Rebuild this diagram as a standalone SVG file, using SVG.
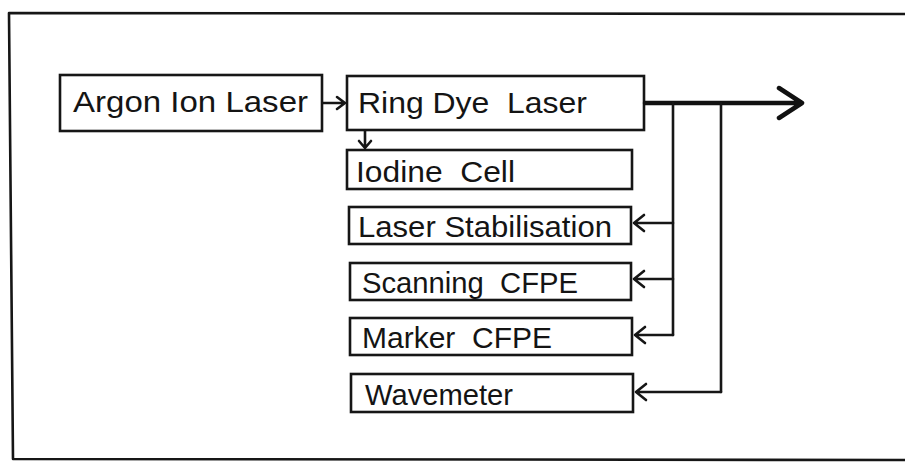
<svg xmlns="http://www.w3.org/2000/svg" width="905" height="463" viewBox="0 0 905 463">
<style>
.box{fill:none;stroke:#161616;stroke-width:2.6}
.lbl{font-family:"Liberation Sans",Arial,sans-serif;font-size:29px;fill:#141414;white-space:pre}
.ln{fill:none;stroke:#161616;stroke-width:2.6;stroke-linecap:round;stroke-linejoin:round}
.thick{fill:none;stroke:#111;stroke-width:4.5;stroke-linecap:round;stroke-linejoin:round}
</style>
<rect width="905" height="463" fill="#fff"/>
<g id="frame">
<path class="ln" d="M905,14 L9,13 L13,459 L905,460"/>
</g>
<g id="argon">
<rect class="box" x="60" y="75" width="262" height="56"/>
<text class="lbl" x="73" y="112" textLength="235" lengthAdjust="spacingAndGlyphs">Argon Ion Laser</text>
</g>
<g id="ringdye">
<rect class="box" x="347" y="76" width="297" height="54"/>
<text class="lbl" x="358" y="113" textLength="229" lengthAdjust="spacingAndGlyphs" xml:space="preserve">Ring Dye  Laser</text>
</g>
<g id="iodine">
<rect class="box" x="347" y="150" width="285" height="39"/>
<text class="lbl" x="356" y="182" textLength="159" lengthAdjust="spacingAndGlyphs" xml:space="preserve">Iodine  Cell</text>
</g>
<g id="stabilisation">
<rect class="box" x="349" y="207" width="282" height="37"/>
<text class="lbl" x="358" y="237" textLength="254" lengthAdjust="spacingAndGlyphs">Laser Stabilisation</text>
</g>
<g id="scanning">
<rect class="box" x="350" y="263" width="281" height="37"/>
<text class="lbl" x="362" y="293" textLength="216" lengthAdjust="spacingAndGlyphs" xml:space="preserve">Scanning  CFPE</text>
</g>
<g id="marker">
<rect class="box" x="350" y="318" width="282" height="37"/>
<text class="lbl" x="362" y="348" textLength="190" lengthAdjust="spacingAndGlyphs" xml:space="preserve">Marker  CFPE</text>
</g>
<g id="wavemeter">
<rect class="box" x="351" y="374" width="282" height="38"/>
<text class="lbl" x="365" y="405" textLength="148" lengthAdjust="spacingAndGlyphs">Wavemeter</text>
</g>
<g id="connectors">
<path class="ln" d="M323,103 L345,103 M337,97 L345,103 L337,109"/>
<path class="ln" d="M365,131 L365,148 M359,141 L365,148 L371,141"/>
<path class="thick" d="M645,103 L802,103 M779,88 L802,103 L779,118"/>
<path class="ln" d="M673,103 L673,335 M721,103 L721,392"/>
<path class="ln" d="M673,223 L634,223 M644,215 L634,223 L644,231"/>
<path class="ln" d="M673,279 L634,279 M644,271 L634,279 L644,287"/>
<path class="ln" d="M673,335 L635,335 M645,327 L635,335 L645,343"/>
<path class="ln" d="M721,392 L636,392 M646,384 L636,392 L646,400"/>
</g>
</svg>
